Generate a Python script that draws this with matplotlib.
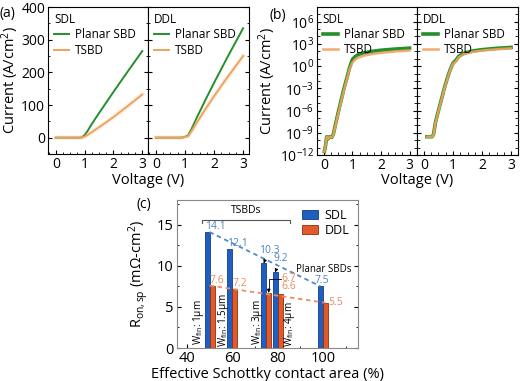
import numpy as np
import matplotlib
matplotlib.use("Agg")
import matplotlib.pyplot as plt
from matplotlib.ticker import FixedLocator, MultipleLocator, LogFormatterSciNotation, NullFormatter

plt.rcParams["font.family"] = ["Open Sans", "DejaVu Sans"]
plt.rcParams["mathtext.fontset"] = "custom"
plt.rcParams["mathtext.rm"] = "Open Sans"
plt.rcParams["mathtext.it"] = "Open Sans:italic"
plt.rcParams["mathtext.bf"] = "Open Sans:bold"

# ---- I-V data, A/cm^2 ----
v_sdl = [0.0, 0.02, 0.06, 0.10, 0.15, 0.20, 0.28, 0.33, 0.40, 0.50, 0.60, 0.70,
         0.80, 0.90, 1.00, 1.10, 1.20, 1.40, 1.70, 2.00, 2.50, 3.00]
j_sdl_planar = [0, 3e-12, 2e-11, 3e-10, 1.5e-10, 3e-10, 2.5e-10, 6e-10, 1e-8, 5e-7,
                2e-5, 8e-4, 2e-2, 0.6, 8, 20, 35, 62, 101, 140, 203, 265]
j_sdl_tsbd = [0, 3e-12, 2e-11, 3e-10, 1.5e-10, 3e-10, 2.5e-10, 5e-10, 7e-9, 3.5e-7,
              1.3e-5, 5e-4, 1.3e-2, 0.4, 3, 8, 14, 26, 44, 63, 97, 132]

v_ddl = [0.0, 0.10, 0.15, 0.20, 0.28, 0.33, 0.40, 0.50, 0.60, 0.70, 0.80, 0.90,
         1.00, 1.10, 1.20, 1.40, 1.70, 2.00, 2.50, 3.00]
j_ddl_planar = [0, 3e-10, 3e-10, 3e-10, 3e-10, 6e-10, 3e-8, 1e-6, 3e-5, 1e-3,
                2e-2, 0.3, 2.5, 6, 22, 60, 115, 168, 253, 335]
j_ddl_tsbd = [0, 3e-10, 3e-10, 3e-10, 3e-10, 5e-10, 2.5e-8, 8e-7, 2.5e-5, 8e-4,
              1.6e-2, 0.25, 2, 4, 16, 45, 87, 127, 190, 250]

# ---- R_on,sp data ----
area = [50, 60, 75, 80, 100]
ron_sdl = [14.1, 12.1, 10.3, 9.2, 7.5]
ron_ddl = [7.6, 7.2, 6.7, 6.6, 5.5]
wfin_labels = [r"W$_{\rm fin}$: 1μm", r"W$_{\rm fin}$: 1.5μm",
               r"W$_{\rm fin}$: 3μm", r"W$_{\rm fin}$: 4μm"]

GREEN = "#248f2c"
ORANGE = "#f0a25e"
BLUE = "#1f5fc2"
RED = "#e2592a"

fig = plt.figure(figsize=(5.2, 3.81), dpi=100)

axa1 = fig.add_axes([0.0923, 0.5958, 0.1923, 0.3858])
axa2 = fig.add_axes([0.2846, 0.5958, 0.1942, 0.3858])
axb1 = fig.add_axes([0.609, 0.593, 0.1923, 0.389])
axb2 = fig.add_axes([0.8013, 0.593, 0.1955, 0.389])
axc = fig.add_axes([0.3398, 0.0866, 0.3487, 0.3885])

curves = [(v_sdl, j_sdl_planar, j_sdl_tsbd, "SDL"),
          (v_ddl, j_ddl_planar, j_ddl_tsbd, "DDL")]

leg_kw = dict(loc="upper left", frameon=False, fontsize=8.5, title_fontsize=8.5,
              alignment="left", handlelength=1.3, handletextpad=0.5,
              borderaxespad=0.2, labelspacing=0.2, borderpad=0.3)

# (a) linear
for ax, (v, jp, jt, name) in zip([axa1, axa2], curves):
    gl, = ax.plot(v, jp, color=GREEN, lw=1.4)
    ax.plot(v, jt, color=ORANGE, lw=3.5, alpha=0.15)
    ol, = ax.plot(v, jt, color=ORANGE, lw=1.4)
    ax.set_xlim(-0.27, 3.2)
    ax.set_ylim(-50, 400)
    ax.set_xticks([0, 1, 2, 3])
    ax.set_yticks([0, 100, 200, 300, 400])
    ax.xaxis.set_minor_locator(MultipleLocator(0.25))
    ax.yaxis.set_minor_locator(MultipleLocator(50))
    ax.tick_params(which="both", direction="in", right=True, labelsize=10, pad=2)
    ax.tick_params(which="major", length=3)
    ax.tick_params(which="minor", length=1.5)
    ax.legend([gl, ol], ["Planar SBD", "TSBD"], title=name, **leg_kw)
axa2.tick_params(labelleft=False)
axa1.set_ylabel("Current (A/cm$^2$)", fontsize=10.5, labelpad=0)
fig.text(0.285, 0.525, "Voltage (V)", ha="center", va="center", fontsize=10.5)
fig.text(0.0, 0.965, "(a)", ha="left", va="center", fontsize=10)

# (b) log
for ax, (v, jp, jt, name) in zip([axb1, axb2], curves):
    ax.set_yscale("log", nonpositive="mask")
    ax.plot(v, jp, color=GREEN, lw=2.6, label="Planar SBD")
    ax.plot(v, jt, color=ORANGE, lw=1.8, alpha=0.9, label="TSBD")
    ax.set_xlim(-0.25, 3.25)
    ax.set_ylim(1e-12, 1e8)
    ax.set_xticks([0, 1, 2, 3])
    ax.yaxis.set_major_locator(FixedLocator([10.0 ** k for k in range(-12, 7, 3)]))
    ax.yaxis.set_minor_locator(FixedLocator([10.0 ** k for k in range(-12, 9)]))
    ax.yaxis.set_major_formatter(LogFormatterSciNotation())
    ax.yaxis.set_minor_formatter(NullFormatter())
    ax.xaxis.set_minor_locator(MultipleLocator(0.25))
    ax.tick_params(which="both", direction="in", right=True, labelsize=10, pad=2)
    ax.tick_params(which="major", length=3)
    ax.tick_params(which="minor", length=2)
    ax.legend(title=name, **leg_kw)
axb2.tick_params(labelleft=False)
axb1.set_ylabel("Current (A/cm$^2$)", fontsize=10.5, labelpad=1)
fig.text(0.803, 0.525, "Voltage (V)", ha="center", va="center", fontsize=10.5)
fig.text(0.518, 0.96, "(b)", ha="left", va="center", fontsize=10)

# (c) bars
w = 2.2
pos = np.array(area, dtype=float)
axc.bar(pos - w / 2, ron_sdl, width=w, color=BLUE, edgecolor="#123d80",
        linewidth=0.6, label="SDL", zorder=3)
axc.bar(pos + w / 2, ron_ddl, width=w, color=RED, edgecolor="#8a3212",
        linewidth=0.6, label="DDL", zorder=3)

axc.plot([pos[0], pos[-1] - w / 2], [ron_sdl[0], ron_sdl[-1]], ls=(0, (2.5, 2)),
         color="#4a8ccc", lw=1.3, zorder=4)
axc.plot([pos[0], pos[-1] + w / 2], [ron_ddl[0], ron_ddl[-1]], ls=(0, (2.5, 2)),
         color="#f08c62", lw=1.3, zorder=4)

fs = 7.5
lab_kw = dict(fontsize=fs, zorder=5)
c_sdl = "#4a86c5"
c_ddl = "#eb8a5e"
arr = dict(arrowstyle="-|>", color="black", lw=0.6, shrinkA=3, shrinkB=0, mutation_scale=5)
axc.text(pos[0] - w, ron_sdl[0], f"{ron_sdl[0]}", color=c_sdl, ha="left", va="bottom", **lab_kw)
axc.text(pos[1] - w, ron_sdl[1], f"{ron_sdl[1]}", color=c_sdl, ha="left", va="bottom", **lab_kw)
axc.annotate(f"{ron_sdl[2]}", xy=(pos[2] - w / 2, ron_sdl[2]), xytext=(76.2, 11.9),
             color=c_sdl, ha="center", va="center", fontsize=fs, zorder=5, arrowprops=arr)
axc.annotate(f"{ron_sdl[3]}", xy=(pos[3] - w / 2, ron_sdl[3]), xytext=(81.5, 10.9),
             color=c_sdl, ha="center", va="center", fontsize=fs, zorder=5, arrowprops=arr)
axc.text(pos[4] - w / 2 + 0.5, ron_sdl[4] + 0.05, f"{ron_sdl[4]}", color=c_sdl,
         ha="center", va="bottom", **lab_kw)

y67 = 8.45
axc.text(pos[0], ron_ddl[0], f"{ron_ddl[0]}", color=c_ddl, ha="left", va="bottom", **lab_kw)
axc.text(pos[1], ron_ddl[1], f"{ron_ddl[1]}", color=c_ddl, ha="left", va="bottom", **lab_kw)
axc.text(81.6, y67, f"{ron_ddl[2]}", color=c_ddl, ha="left", va="center", **lab_kw)
axc.plot([81.4, pos[2] + w / 2, pos[2] + w / 2], [y67, y67, ron_ddl[2] + 0.35],
         color="black", lw=0.6, zorder=5)
axc.annotate("", xy=(pos[2] + w / 2, ron_ddl[2]), xytext=(pos[2] + w / 2, ron_ddl[2] + 0.5),
             arrowprops=dict(arrowstyle="-|>", color="black", lw=0.6,
                             shrinkA=0, shrinkB=0, mutation_scale=5), zorder=5)
axc.text(81.6, ron_ddl[3] + 0.15, f"{ron_ddl[3]}", color=c_ddl, ha="left", va="bottom", **lab_kw)
axc.text(pos[4] + w, ron_ddl[4], f"{ron_ddl[4]}", color=c_ddl, ha="left", va="center", **lab_kw)

for xt, yt, s in zip([45.3, 56.0, 71.0, 85.4], [0.4, 0.1, 0.4, 0.1], wfin_labels):
    axc.text(xt, yt, s, rotation=90, ha="center", va="bottom", fontsize=7.2)

axc.plot([46.5, 46.5, 85.7, 85.7], [15.2, 15.6, 15.6, 15.2], color="#555555", lw=0.8)
axc.text(66.1, 16.0, "TSBDs", ha="center", va="bottom", fontsize=7.5)
axc.text(112.5, 9.5, "Planar SBDs", ha="right", va="center", fontsize=7)

axc.set_xlim(35.5, 115.5)
axc.set_ylim(0, 18)
axc.set_xticks([40, 60, 80, 100])
axc.set_yticks([0, 5, 10, 15])
axc.xaxis.set_minor_locator(MultipleLocator(10))
axc.yaxis.set_minor_locator(MultipleLocator(2.5))
axc.tick_params(which="both", direction="in", right=True, labelsize=10.5, pad=2)
axc.tick_params(which="major", length=3)
axc.tick_params(which="minor", length=1.5)
for s in axc.spines.values():
    s.set_color("#888888")
    s.set_linewidth(0.8)
axc.set_ylabel(r"R$_{\rm on,sp}$ (mΩ-cm$^2$)", fontsize=10.5, labelpad=4)
axc.set_xlabel("Effective Schottky contact area (%)", fontsize=10.5, labelpad=1)
axc.legend(loc="upper right", frameon=False, fontsize=9, handlelength=1.3,
           handleheight=0.7, handletextpad=0.5, borderaxespad=0.3, labelspacing=0.2)
fig.text(0.262, 0.462, "(c)", ha="left", va="center", fontsize=10)

fig.savefig("out.png", dpi=100)
